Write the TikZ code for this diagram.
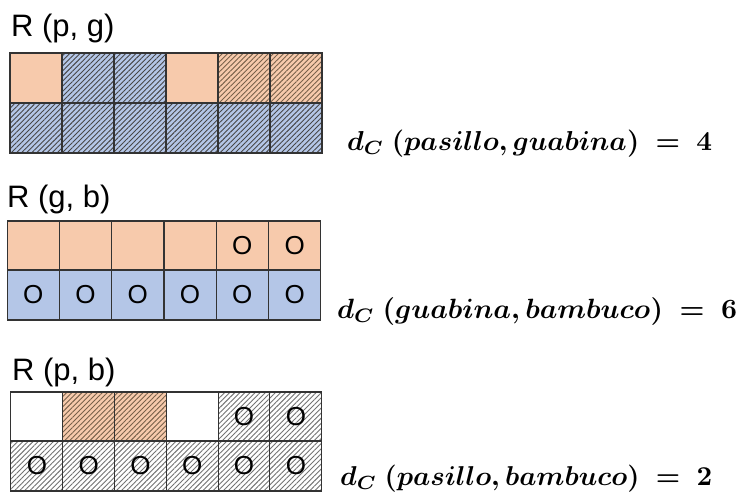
\documentclass[tikz,border=0pt]{standalone}
\usepackage{fontspec}
\setmainfont{Liberation Sans}
\usetikzlibrary{patterns.meta}
\definecolor{peach}{HTML}{F7CAAC}
\definecolor{lblue}{HTML}{B4C6E7}
\definecolor{edgec}{HTML}{333333}
\tikzset{
  cell/.style={draw=edgec, line width=1.1pt, minimum width=52pt, minimum height=50pt, inner sep=0pt, font=\fontsize{26}{26}\selectfont},
  pe/.style={cell, fill=peach},
  bl/.style={cell, fill=lblue},
  wh/.style={cell, fill=white},
  hbl/.style={cell, preaction={fill=lblue}, pattern={Lines[angle=45,distance=3.6pt,line width=0.9pt]}, pattern color=black!72},
  hpe/.style={cell, preaction={fill=peach}, pattern={Lines[angle=45,distance=3.6pt,line width=0.9pt]}, pattern color=brown!45!black!80},
  hgr/.style={cell, preaction={fill=white}, pattern={Lines[angle=45,distance=3.6pt,line width=0.9pt]}, pattern color=black!55},
  lbl/.style={anchor=base west, inner sep=0pt, font=\fontsize{31}{34}\selectfont},
  formula/.style={anchor=base west, inner sep=0pt}
}
\begin{document}
\begin{tikzpicture}[x=1pt,y=-1pt]
\useasboundingbox (0,0) rectangle (742,495);
% grid 1
\node[lbl] (l1) at (11,37) {R (p, g)};
\foreach \s/\t [count=\i] in {pe/,hbl/,hbl/,pe/,hpe/,hpe/}
  \node[\s] (a1\i) at ({10+52*(\i-0.5)},78) {\t};
\foreach \s/\t [count=\i] in {hbl/,hbl/,hbl/,hbl/,hbl/,hbl/}
  \node[\s] (a2\i) at ({10+52*(\i-0.5)},128) {\t};
\node[formula] (f1) at (347,150) {\resizebox{365pt}{!}{\boldmath$d_C\ (pasillo, guabina)\ =\ 4$}};
% grid 2
\node[lbl] (l2) at (7,207) {R (g, b)};
\foreach \s/\t [count=\i] in {pe/,pe/,pe/,pe/,pe/O,pe/O}
  \node[\s] (b1\i) at ({7+52.3*(\i-0.5)},246) {\t};
\foreach \s/\t [count=\i] in {bl/O,bl/O,bl/O,bl/O,bl/O,bl/O}
  \node[\s] (b2\i) at ({7+52.3*(\i-0.5)},295) {\t};
\node[formula] (f2) at (337,318) {\resizebox{400pt}{!}{\boldmath$d_C\ (guabina, bambuco)\ =\ 6$}};
% grid 3
\node[lbl] (l3) at (12,380) {R (p, b)};
\foreach \s/\t [count=\i] in {wh/,hpe/,hpe/,wh/,hgr/O,hgr/O}
  \node[\s] (c1\i) at ({11+51.8*(\i-0.5)},417) {\t};
\foreach \s/\t [count=\i] in {hgr/O,hgr/O,hgr/O,hgr/O,hgr/O,hgr/O}
  \node[\s] (c2\i) at ({11+51.8*(\i-0.5)},466) {\t};
\node[formula] (f3) at (340,485) {\resizebox{372pt}{!}{\boldmath$d_C\ (pasillo, bambuco)\ =\ 2$}};
\end{tikzpicture}
\end{document}
